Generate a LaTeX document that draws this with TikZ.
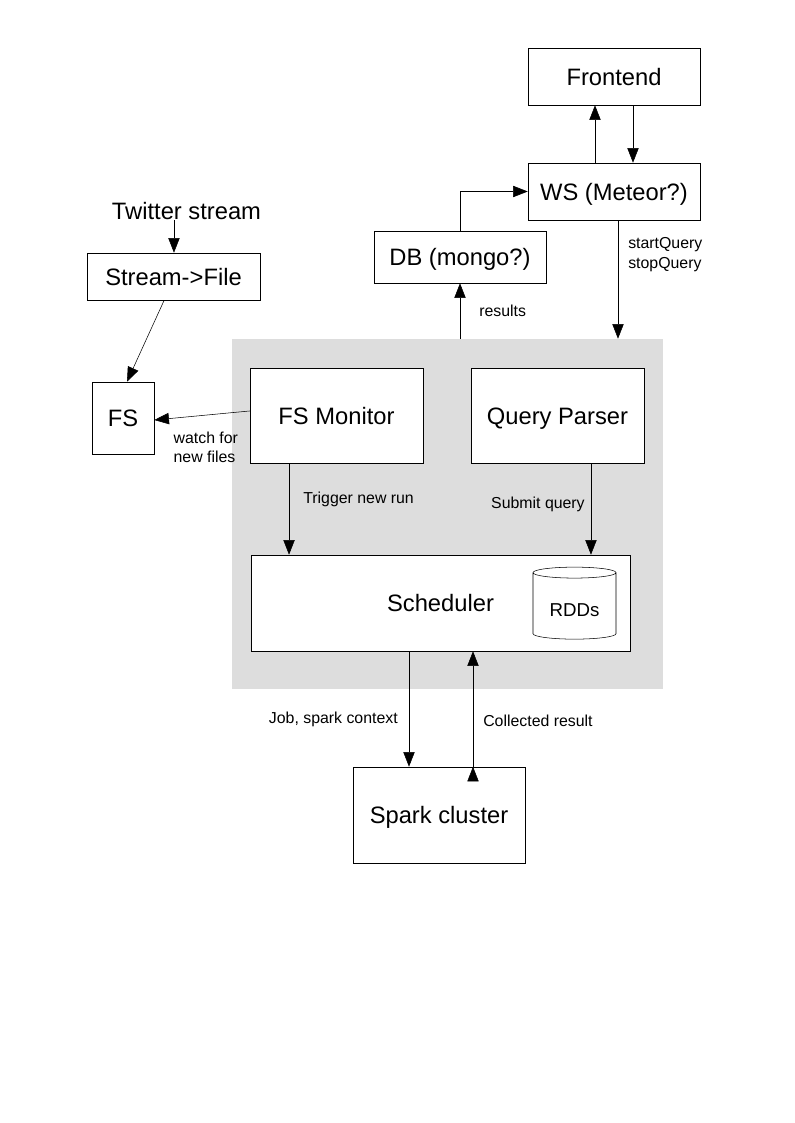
\documentclass[tikz,border=0pt]{standalone}
\usepackage{fontspec}
\setmainfont{Liberation Sans}
\usetikzlibrary{positioning, arrows.meta, shapes.geometric}
\definecolor{panelgray}{RGB}{221,221,221}
\tikzset{
    ->,
    >={Triangle[length=11pt, width=8.5pt]},
    line width=0.75pt,
    box/.style={draw, fill=white, inner sep=0pt, text height=12.8pt, text depth=0pt, font=\fontsize{17.8}{21}\selectfont},
    lbl/.style={inner sep=0pt, align=left, font=\fontsize{11.9}{14.3}\selectfont},
}
\begin{document}
\begin{tikzpicture}[x=0.75pt, y=-0.75pt]
                \useasboundingbox (0,0) rectangle (794,1123);
                % spark side
                \node[fill=panelgray, inner sep=0pt, minimum width=323.25pt, minimum height=262.5pt] (panel) at (447.5,514) {};

                \node[box, minimum width=129pt, minimum height=42.75pt] (fe) at (614,76.5) {Frontend};
                \node[box, minimum width=129pt, minimum height=42.75pt] (ws) at (614,191.5) {WS (Meteor?)};
                \node[box, minimum width=129pt, minimum height=39pt] (db) at (460,257) {DB (mongo?)};
                \node[inner sep=0pt, font=\fontsize{17.8}{21}\selectfont] (tw) at (186.5,211) {Twitter stream};
                \node[box, minimum width=129.75pt, minimum height=35.25pt] (sf) at (173.5,276.5) {Stream->File};
                \node[box, minimum width=46.5pt, minimum height=54pt] (fs) at (123,418) {FS};
                \node[box, minimum width=129.75pt, minimum height=71.25pt] (fsm) at (336.5,415.5) {FS Monitor};
                \node[box, minimum width=129.75pt, minimum height=71.25pt] (qp) at (557.5,415.5) {Query Parser};
                \node[box, minimum width=284.25pt, minimum height=72pt] (sched) at (440.5,603) {Scheduler};
                \node[cylinder, draw, fill=white, shape border rotate=90, aspect=0.22, inner sep=0pt,
                      minimum width=62.25pt, minimum height=54pt, text height=16pt, text depth=0pt,
                      font=\fontsize{14}{17}\selectfont] (rdd) at (574.5,606) {RDDs};
                \node[box, minimum width=129pt, minimum height=72pt] (spark) at (439,815) {Spark cluster};

                \draw ([xshift=-14.25pt]ws.north) edge ([xshift=-14.25pt]fe.south)
                      ([xshift=14.25pt]fe.south) edge ([xshift=14.25pt]ws.north)
                      ([xshift=3pt]ws.south) edge node[lbl, pos=0.29, right=7.5pt] {startQuery\\stopQuery} ([xshift=3pt]ws.south |- panel.north)
                      (db.south |- panel.north) edge node[lbl, midway, right=14.25pt] {results} (db.south)
                      ([xshift=-9.4pt]tw.south) edge ([xshift=-9.4pt]tw.south |- sf.north)
                      ([xshift=-7pt]sf.south) edge ([xshift=3pt]fs.north)
                      ([yshift=3.4pt]fsm.west) edge node[lbl, pos=0.8, anchor=north west, yshift=-10pt] {watch for\\new files} ([yshift=-1.5pt]fs.east)
                      ([xshift=-35.6pt]fsm.south) edge node[lbl, pos=0.39, right=10.5pt] {Trigger new run} ([xshift=-35.6pt]fsm.south |- sched.north)
                      ([xshift=25.1pt]qp.south) edge node[lbl, pos=0.45, left=4.5pt] {Submit query} ([xshift=25.1pt]qp.south |- sched.north)
                      ([xshift=-22.5pt]spark.north |- sched.south) edge node[lbl, pos=0.59, left=8.25pt] {Job, spark context} ([xshift=-22.5pt]spark.north)
                      ([xshift=25.5pt]spark.north) edge node[lbl, pos=0.4, right=7.5pt] {Collected result} ([xshift=25.5pt]spark.north |- sched.south)
                ;
                \draw (db.north) |- (ws.west);
            \end{tikzpicture}
\end{document}
